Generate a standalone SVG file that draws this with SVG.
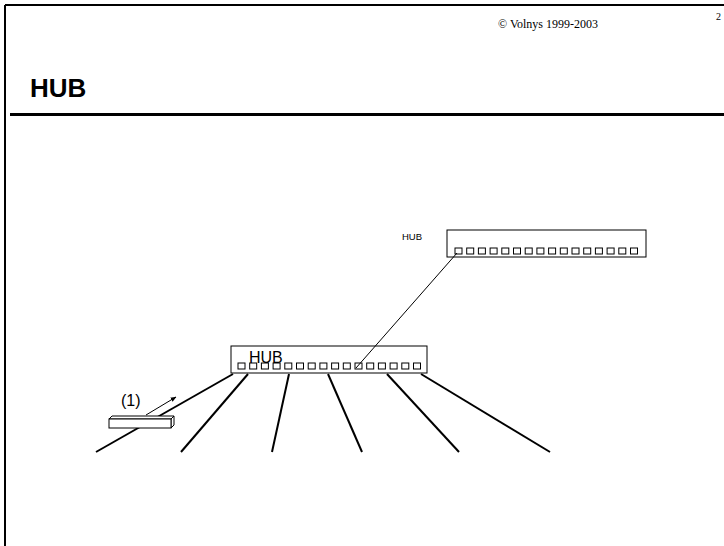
<svg xmlns="http://www.w3.org/2000/svg" width="724" height="546" viewBox="0 0 724 546">
<style>
.frame{stroke:#000;fill:none}
.hub{fill:#fff;stroke:#000;stroke-width:1}
.port{fill:#fff;stroke:#000;stroke-width:1}
.cable{stroke:#000;stroke-width:2;fill:none}
.thin{stroke:#000;stroke-width:1;fill:none}
.sans{font-family:"Liberation Sans",Arial,sans-serif}
.serif{font-family:"Liberation Serif","Times New Roman",serif}
</style>
<defs>
<marker id="ah" viewBox="0 0 10 10" refX="9" refY="5" markerWidth="6" markerHeight="6" orient="auto" markerUnits="userSpaceOnUse">
<path d="M0,1 L10,5 L0,9 Z" fill="#000"/>
</marker>
<g id="ports">
<rect class="port" x="0" y="0" width="7" height="6"/>
<rect class="port" x="11.7" y="0" width="7" height="6"/>
<rect class="port" x="23.4" y="0" width="7" height="6"/>
<rect class="port" x="35.1" y="0" width="7" height="6"/>
<rect class="port" x="46.8" y="0" width="7" height="6"/>
<rect class="port" x="58.5" y="0" width="7" height="6"/>
<rect class="port" x="70.2" y="0" width="7" height="6"/>
<rect class="port" x="81.9" y="0" width="7" height="6"/>
<rect class="port" x="93.6" y="0" width="7" height="6"/>
<rect class="port" x="105.3" y="0" width="7" height="6"/>
<rect class="port" x="117" y="0" width="7" height="6"/>
<rect class="port" x="128.7" y="0" width="7" height="6"/>
<rect class="port" x="140.4" y="0" width="7" height="6"/>
<rect class="port" x="152.1" y="0" width="7" height="6"/>
<rect class="port" x="163.8" y="0" width="7" height="6"/>
<rect class="port" x="175.5" y="0" width="7" height="6"/>
</g>
</defs>
<rect width="724" height="546" fill="#fff"/>
<g id="page">
<line class="frame" x1="5" y1="5" x2="724" y2="5" stroke-width="2"/>
<line class="frame" x1="5" y1="5" x2="5" y2="546" stroke-width="2"/>
<line class="frame" x1="10" y1="114.5" x2="724" y2="114.5" stroke-width="3"/>
<text class="serif" x="498" y="28" font-size="12">© Volnys 1999-2003</text>
<text class="serif" x="716" y="20" font-size="10">2</text>
<text class="sans" x="30" y="97" font-size="26" font-weight="bold">HUB</text>
</g>
<g id="hub-upper">
<rect class="hub" x="447" y="230" width="199" height="27"/>
<use href="#ports" x="455" y="248"/>
<text class="sans" x="402" y="240" font-size="9.5">HUB</text>
</g>
<g id="hub-lower">
<rect class="hub" x="231" y="346" width="196" height="27"/>
<use href="#ports" x="238" y="363"/>
<text class="sans" x="249" y="363" font-size="16">HUB</text>
</g>
<g id="connectors">
<line class="thin" x1="457" y1="253" x2="356" y2="368"/>
<line class="cable" x1="233" y1="374" x2="96" y2="452"/>
<line class="cable" x1="248" y1="374" x2="181" y2="452"/>
<line class="cable" x1="289" y1="374" x2="272" y2="452"/>
<line class="cable" x1="328" y1="374" x2="362" y2="452"/>
<line class="cable" x1="387" y1="374" x2="459" y2="452"/>
<line class="cable" x1="421" y1="374" x2="550" y2="452"/>
</g>
<g id="packet">
<polygon class="hub" points="109,419 112,416 174,416 171,419"/>
<polygon class="hub" points="171,419 174,416 174,425 171,428"/>
<rect class="hub" x="109" y="419" width="62" height="9"/>
<line class="thin" x1="146" y1="415" x2="176" y2="397" marker-end="url(#ah)"/>
<text class="sans" x="121" y="406" font-size="16">(1)</text>
</g>
</svg>
